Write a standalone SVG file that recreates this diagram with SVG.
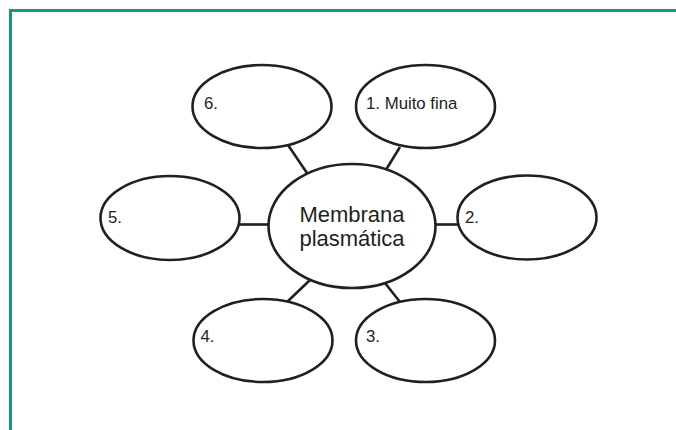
<svg xmlns="http://www.w3.org/2000/svg" width="676" height="430" viewBox="0 0 676 430">
  <style>
    .bubble { fill: #ffffff; stroke: #231f20; stroke-width: 2.6; }
    .link { stroke: #231f20; stroke-width: 2.6; fill: none; }
    .label { font-family: "Liberation Sans", Arial, sans-serif; font-size: 16.8px; fill: #231f20; }
    .title { font-family: "Liberation Sans", Arial, sans-serif; font-size: 22px; fill: #231f20; text-anchor: middle; }
  </style>
  <rect width="676" height="430" fill="#ffffff"/>
  <!-- frame: top and left edges -->
  <path d="M10.5 430 V10.5 H676" fill="none" stroke="#149a7b" stroke-width="3"/>

  <g id="connectors">
    <line class="link" x1="400" y1="147" x2="384" y2="173"/>
    <line class="link" x1="288" y1="145" x2="309" y2="176"/>
    <line class="link" x1="239" y1="224.5" x2="269" y2="224.5"/>
    <line class="link" x1="435" y1="224.5" x2="458" y2="224.5"/>
    <line class="link" x1="310" y1="280" x2="287" y2="302"/>
    <line class="link" x1="385" y1="283" x2="400" y2="302"/>
  </g>

  <g id="center">
    <ellipse class="bubble" cx="352" cy="226" rx="83.5" ry="62"/>
    <text class="title" x="352" y="222">Membrana</text>
    <text class="title" x="352" y="246">plasmática</text>
  </g>

  <g id="node1">
    <ellipse class="bubble" cx="425.5" cy="106.5" rx="69.5" ry="41.5"/>
    <text class="label" x="366" y="108.5">1. Muito fina</text>
  </g>

  <g id="node2">
    <ellipse class="bubble" cx="527" cy="217.5" rx="69.5" ry="42"/>
    <text class="label" x="465" y="222.5">2.</text>
  </g>

  <g id="node3">
    <ellipse class="bubble" cx="425.5" cy="340.5" rx="69.5" ry="41.5"/>
    <text class="label" x="366" y="342">3.</text>
  </g>

  <g id="node4">
    <ellipse class="bubble" cx="263" cy="340.5" rx="69.5" ry="41.5"/>
    <text class="label" x="200.5" y="342">4.</text>
  </g>

  <g id="node5">
    <ellipse class="bubble" cx="170" cy="218" rx="69.5" ry="42"/>
    <text class="label" x="108" y="222.5">5.</text>
  </g>

  <g id="node6">
    <ellipse class="bubble" cx="262" cy="106.5" rx="69.5" ry="41.5"/>
    <text class="label" x="204" y="108.5">6.</text>
  </g>
</svg>
